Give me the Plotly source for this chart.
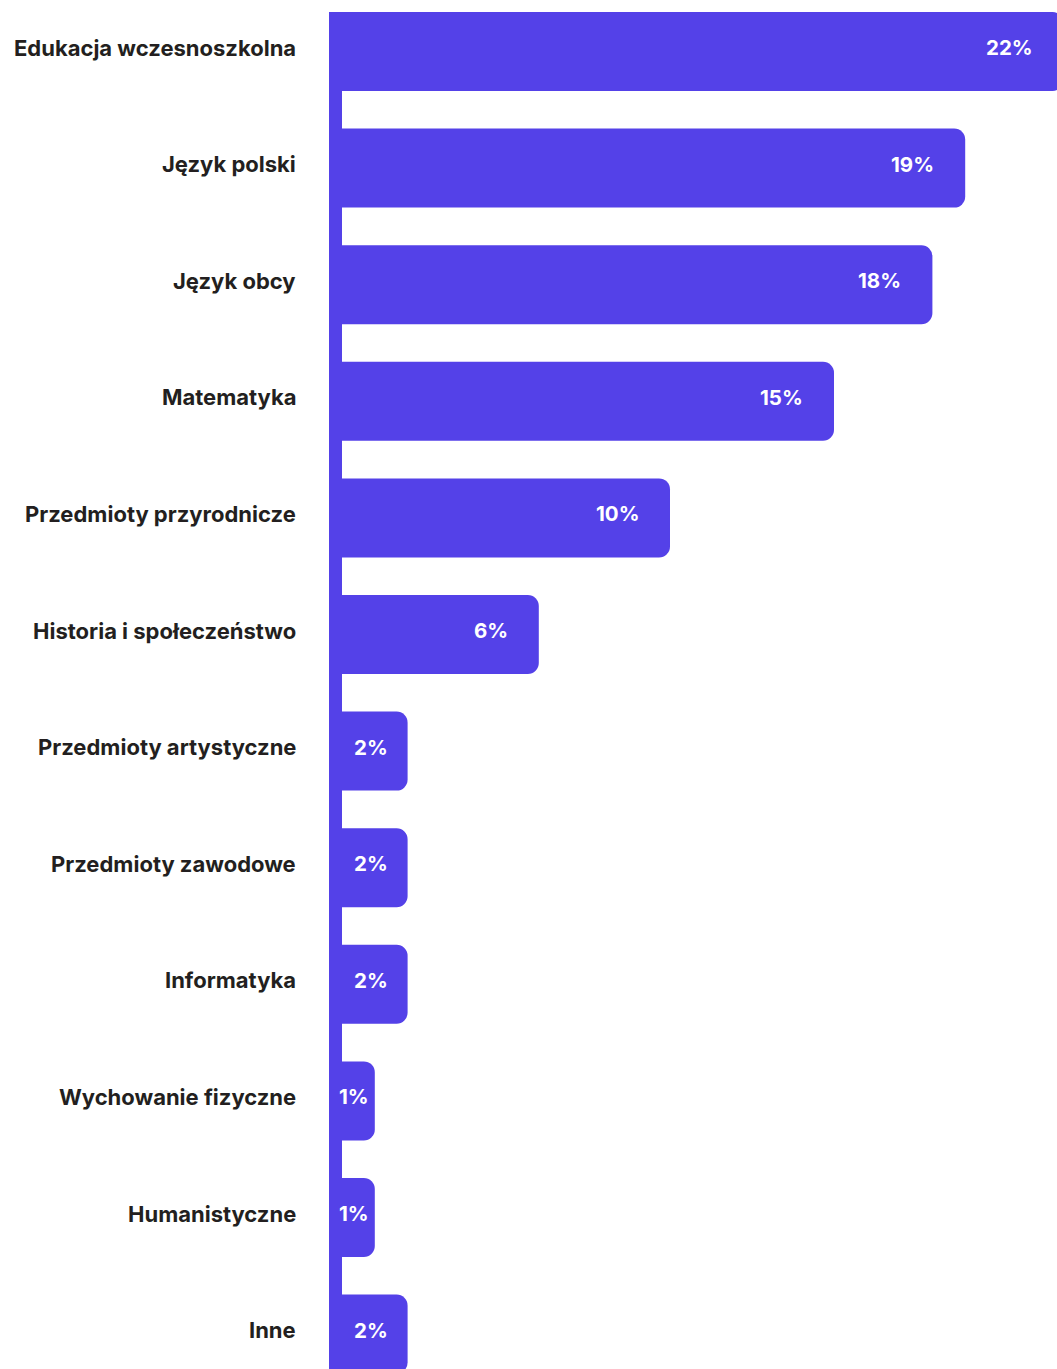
import plotly.graph_objects as go

# Subject areas and their share of responses (%)
categories = [
    "Edukacja wczesnoszkolna",
    "Język polski",
    "Język obcy",
    "Matematyka",
    "Przedmioty przyrodnicze",
    "Historia i społeczeństwo",
    "Przedmioty artystyczne",
    "Przedmioty zawodowe",
    "Informatyka",
    "Wychowanie fizyczne",
    "Humanistyczne",
    "Inne",
]
shares = [22, 19, 18, 15, 10, 6, 2, 2, 2, 1, 1, 2]
labels = [f"{v}%" for v in shares]

BAR = "#5441E8"
INK = "#231F20"
FONT = "Inter, 'Open Sans', sans-serif"

W, H = 1057, 1369
PLOT_LEFT = 329          # left edge of the plotting area (px)
ZERO_PX = 342            # pixel where the value axis starts
PX_PER_UNIT = 32.8       # horizontal pixels per percentage point
ROW_PX = 116.6           # vertical pixels per category
FIRST_ROW_PX = 51.5      # centre of the first category row

x_min = -(ZERO_PX - PLOT_LEFT) / PX_PER_UNIT
x_max = (W - ZERO_PX) / PX_PER_UNIT
y_top = -FIRST_ROW_PX / ROW_PX
y_bottom = (H - FIRST_ROW_PX) / ROW_PX
bar_w = 79 / ROW_PX

fig = go.Figure(
    go.Bar(
        x=shares,
        y=categories,
        orientation="h",
        width=bar_w,
        marker=dict(color=BAR, line=dict(width=0)),
        hoverinfo="skip",
    )
)

annotations = []

# category names, right-aligned left of the base line
for cat in categories:
    annotations.append(dict(
        x=0, xref="paper", y=cat, yref="y", text=cat,
        xanchor="right", xshift=-31, yshift=4, showarrow=False,
        font=dict(family=FONT, size=22, color=INK, weight=700),
    ))

# value labels: near the bar end for long bars, centred for short ones
# (a bar running past the right edge keeps its label offset from the true end)
for cat, v, lab in zip(categories, shares, labels):
    if v * PX_PER_UNIT > 100:
        xa = min(v, x_max)
        overflow = (v - xa) * PX_PER_UNIT
        pos = dict(x=xa, xanchor="right", xshift=-29 + overflow)
    else:
        pos = dict(x=v / 2, xanchor="center", xshift=-4)
    annotations.append(dict(
        **pos, y=cat, xref="x", yref="y", text=lab, yshift=4, showarrow=False,
        font=dict(family=FONT, size=20.5, color="white", weight=700),
    ))

# the thick base line along the left edge, starting at the first bar
shapes = [dict(type="rect", xref="x", yref="y",
               x0=x_min, x1=0, y0=-bar_w / 2, y1=y_bottom,
               fillcolor=BAR, line=dict(width=0), layer="below")]

fig.update_layout(
    width=W,
    height=H,
    margin=dict(l=PLOT_LEFT, r=0, t=0, b=0),
    paper_bgcolor="white",
    plot_bgcolor="white",
    barcornerradius=11,
    showlegend=False,
    annotations=annotations,
    shapes=shapes,
    xaxis=dict(range=[x_min, x_max], visible=False, fixedrange=True),
    yaxis=dict(
        type="category",
        categoryorder="array",
        categoryarray=categories,
        range=[y_bottom, y_top],
        showgrid=False,
        zeroline=False,
        showline=False,
        showticklabels=False,
        ticks="",
        fixedrange=True,
    ),
)

fig.write_html("out.html")
